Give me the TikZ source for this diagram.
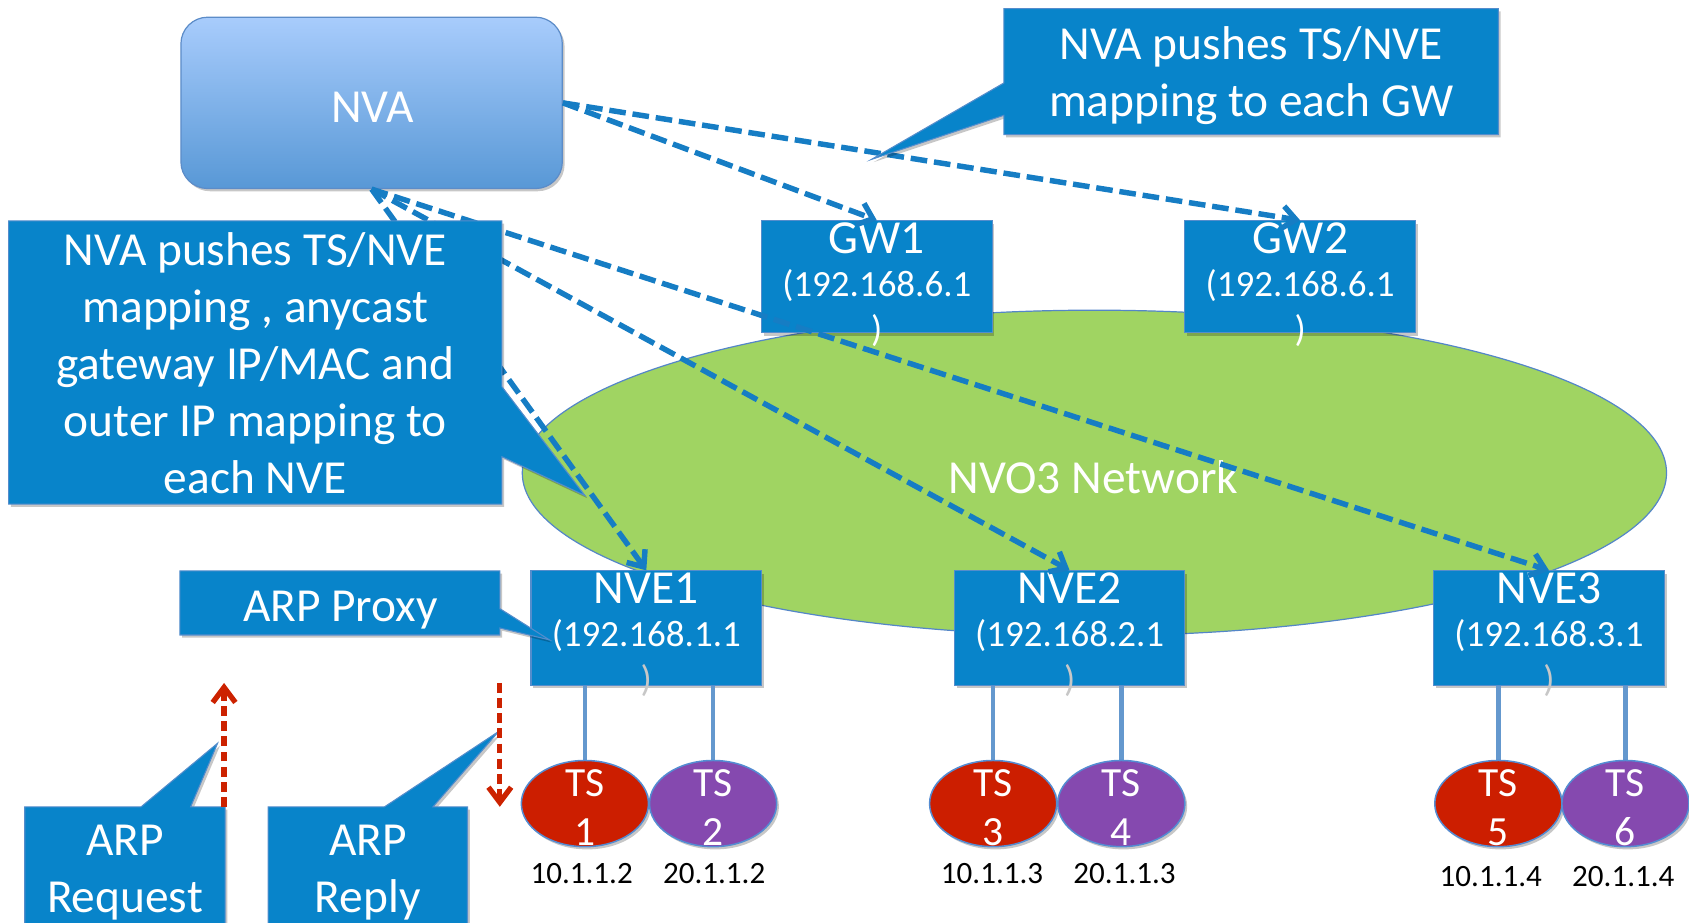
\documentclass[tikz,border=0pt]{standalone}
\usepackage{fontspec}
\setmainfont{Carlito}
\usetikzlibrary{arrows.meta,shadows,shapes.geometric}
\definecolor{boxblue}{RGB}{8,132,202}
\definecolor{boxedge}{RGB}{84,141,204}
\definecolor{linkblue}{RGB}{22,125,196}
\definecolor{nvatop}{RGB}{168,204,252}
\definecolor{nvabot}{RGB}{88,152,214}
\definecolor{nvaedge}{RGB}{92,140,200}
\definecolor{netgreen}{RGB}{160,212,98}
\definecolor{netedge}{RGB}{84,134,200}
\definecolor{tsred}{RGB}{204,30,0}
\definecolor{tspurple}{RGB}{133,73,175}
\definecolor{tsedge}{RGB}{84,140,210}
\definecolor{wirecol}{RGB}{100,152,206}
\definecolor{arpred}{RGB}{204,34,0}
\begin{document}
\begin{tikzpicture}[x=0.025cm,y=-0.025cm,
  bigfont/.style={font=\fontsize{31.3}{37.7}\selectfont},
  ipfont/.style={font=\fontsize{24.4}{30}\selectfont},
  tsfont/.style={font=\fontsize{27.4}{32.4}\selectfont},
  addrfont/.style={font=\fontsize{20.5}{24}\selectfont},
  softshadow/.style={drop shadow={shadow xshift=1.5pt,shadow yshift=-1.8pt,opacity=0.22,fill=black}},
  devbox/.style={rectangle,fill=boxblue,draw=boxedge,line width=0.7pt,minimum width=5.35cm,inner sep=0pt,softshadow},
  gwbox/.style={devbox,minimum height=2.6cm},
  nvebox/.style={devbox,minimum height=2.65cm},
  whitetext/.style={text=white,inner sep=0pt},
  nametext/.style={whitetext,bigfont,anchor=base},
  iptext/.style={whitetext,ipfont,anchor=base},
  closetext/.style={text=black!22,ipfont,anchor=base,inner sep=0pt},
  note/.style={fill=boxblue,draw=boxedge,line width=0.7pt,softshadow},
  notetext/.style={whitetext,bigfont,align=center},
  tsnode/.style={ellipse,draw=tsedge,line width=1pt,minimum width=2.95cm,minimum height=2cm,inner sep=0pt,softshadow},
  tstext/.style={whitetext,tsfont,align=center},
  addr/.style={addrfont,anchor=base,inner sep=0pt,text=black},
  wire/.style={draw=wirecol,line width=3pt},
  push/.style={draw=linkblue,line width=3.6pt,dash pattern=on 11pt off 4.5pt,-{Straight Barb[length=9pt,width=15pt]}},
  arpflow/.style={draw=arpred,line width=3.5pt,dash pattern=on 6.5pt off 3.5pt,-{Straight Barb[length=10pt,width=15pt]}},
]
\useasboundingbox (0,0) rectangle (1568,856);

% overlay network
\node[ellipse,fill=netgreen,draw=netedge,line width=0.8pt,minimum width=26.55cm,minimum height=7.55cm,inner sep=0pt] (net) at (1016,439) {};
\node[whitetext,bigfont] (netname) at (1015,443) {NVO3 Network};

% gateways
\node[gwbox] (gw1) at (814,257) {};
\node[nametext] (gw1name) at (814,235) {GW1};
\node[iptext] (gw1ip) at (814,275) {(192.168.6.1};
\node[iptext] (gw1close) at (814,317) {)};
\node[gwbox] (gw2) at (1207,257) {};
\node[nametext] (gw2name) at (1207,235) {GW2};
\node[iptext] (gw2ip) at (1207,275) {(192.168.6.1};
\node[iptext] (gw2close) at (1207,317) {)};

% edge devices
\node[nvebox] (nve1) at (600,583) {};
\node[nametext] (nve1name) at (600,560) {NVE1};
\node[iptext] (nve1ip) at (600,600) {(192.168.1.1};
\node[closetext] (nve1close) at (600,642) {)};
\node[nvebox] (nve2) at (993,583) {};
\node[nametext] (nve2name) at (993,560) {NVE2};
\node[iptext] (nve2ip) at (993,600) {(192.168.2.1};
\node[closetext] (nve2close) at (993,642) {)};
\node[nvebox] (nve3) at (1438,583) {};
\node[nametext] (nve3name) at (1438,560) {NVE3};
\node[iptext] (nve3ip) at (1438,600) {(192.168.3.1};
\node[closetext] (nve3close) at (1438,642) {)};

% tenant systems
\coordinate (ts1c) at (543,746);
\coordinate (ts2c) at (662,746);
\coordinate (ts3c) at (922,746);
\coordinate (ts4c) at (1041,746);
\coordinate (ts5c) at (1391,746);
\coordinate (ts6c) at (1509,746);
\draw[wire] (nve1.south -| ts1c) -- (ts1c);
\draw[wire] (nve1.south -| ts2c) -- (ts2c);
\draw[wire] (nve2.south -| ts3c) -- (ts3c);
\draw[wire] (nve2.south -| ts4c) -- (ts4c);
\draw[wire] (nve3.south -| ts5c) -- (ts5c);
\draw[wire] (nve3.south -| ts6c) -- (ts6c);
\node[tsnode,fill=tsred] (ts1) at (ts1c) {};
\node[tsnode,fill=tspurple] (ts2) at (ts2c) {};
\node[tsnode,fill=tsred] (ts3) at (ts3c) {};
\node[tsnode,fill=tspurple] (ts4) at (ts4c) {};
\node[tsnode,fill=tsred] (ts5) at (ts5c) {};
\node[tsnode,fill=tspurple] (ts6) at (ts6c) {};
\node[tstext] (ts1t) at (543,749.5) {TS\\1};
\node[tstext] (ts2t) at (662,749.5) {TS\\2};
\node[tstext] (ts3t) at (922,749.5) {TS\\3};
\node[tstext] (ts4t) at (1041,749.5) {TS\\4};
\node[tstext] (ts5t) at (1391,749.5) {TS\\5};
\node[tstext] (ts6t) at (1509,749.5) {TS\\6};
\node[addr] (a1) at (540,820) {10.1.1.2};
\node[addr] (a2) at (663,820) {20.1.1.2};
\node[addr] (a3) at (921,820) {10.1.1.3};
\node[addr] (a4) at (1044,820) {20.1.1.3};
\node[addr] (a5) at (1384,823) {10.1.1.4};
\node[addr] (a6) at (1507,823) {20.1.1.4};

% controller
\node[rectangle,rounded corners=0.62cm,top color=nvatop,bottom color=nvabot,draw=nvaedge,line width=0.8pt,minimum width=8.85cm,minimum height=3.975cm,inner sep=0pt,softshadow] (nva) at (345,95.5) {};
\node[whitetext,bigfont] (nvaname) at (346,99.5) {NVA};

% mapping pushes
\draw[push] (nva.east) -- (gw1.north);
\draw[push] (nva.east) -- (gw2.north);
\draw[push] (nva.south) -- (nve1.north);
\draw[push] (nva.south) -- (nve2.north);
\draw[push] (nva.south) -- (nve3.north);

% callouts
\draw[note] (8,205) -- (466,205) -- (466,359) -- (543,460) -- (466,424) -- (466,468) -- (8,468) -- cycle;
\node[notetext] (pushnve) at (237,337) {NVA pushes TS/NVE\\mapping , anycast\\gateway IP/MAC and\\outer IP mapping to\\each NVE};

\draw[note] (932,8) -- (1391,8) -- (1391,125) -- (932,125) -- (932,107) -- (809,148) -- (932,77) -- cycle;
\node[notetext] (pushgw) at (1161.5,70) {NVA pushes TS/NVE\\mapping to each GW};

\draw[note] (167,530) -- (464,530) -- (464,565) -- (510,594) -- (464,583) -- (464,589.5) -- (167,589.5) -- cycle;
\node[whitetext,bigfont,anchor=base] (proxy) at (316,577) {ARP Proxy};

\draw[note] (23,749) -- (131,749) -- (202,690) -- (177,749) -- (209,749) -- (209,860) -- (23,860) -- cycle;
\node[notetext] (request) at (116,810) {ARP\\Request};

\draw[note] (249,749) -- (357,749) -- (463,679) -- (402,749) -- (434,749) -- (434,860) -- (249,860) -- cycle;
\node[notetext] (reply) at (341.5,810) {ARP\\Reply};

% ARP request / reply flow
\coordinate (reqfoot) at (208,749);
\coordinate (reqhead) at (208,634);
\coordinate (repfoot) at (464,634);
\coordinate (rephead) at (464,749);
\draw[arpflow] (reqfoot) -- (reqhead);
\draw[arpflow] (repfoot) -- (rephead);
\end{tikzpicture}
\end{document}
